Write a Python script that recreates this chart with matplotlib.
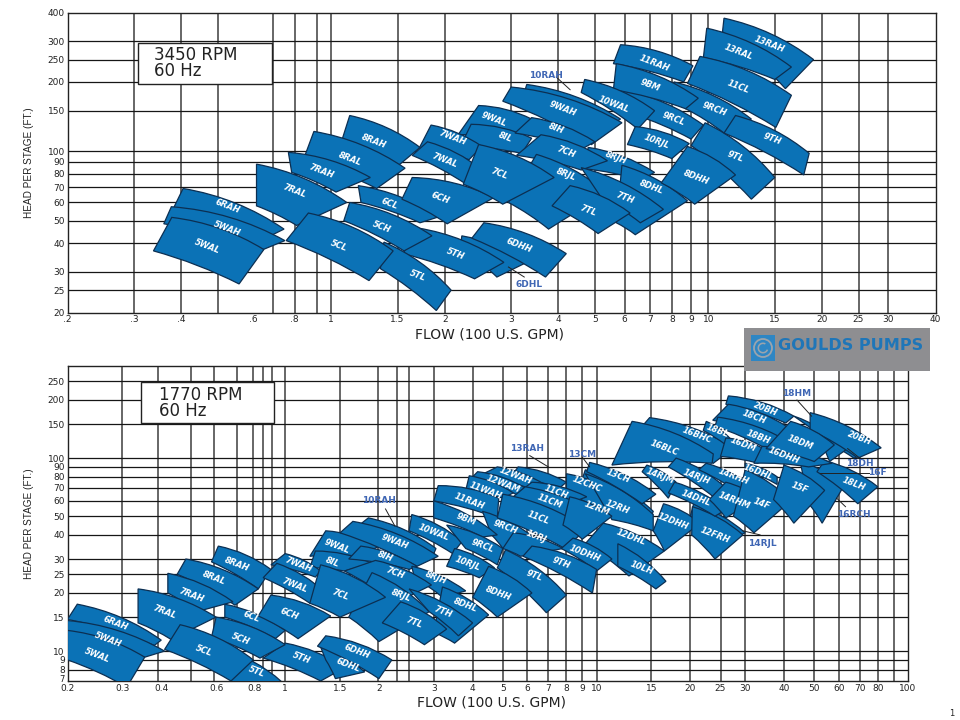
import numpy as np
import matplotlib
matplotlib.use("Agg")
import matplotlib.pyplot as plt
from matplotlib.path import Path
from matplotlib.patches import PathPatch, Rectangle, Circle, Wedge

#
# Chart values. Corners go top-left, top-right,
# bottom-right, bottom-left
#

# 3450 RPM panel
top_grid_flow = [0.3, 0.4, 0.5, 0.7, 0.8, 0.915, 1, 1.5, 2, 3, 4, 5, 6, 7, 8, 9, 10, 15, 20, 25, 30]
top_grid_head = [25, 30, 40, 50, 60, 70, 80, 90, 100, 150, 200, 250, 300]
top_flow_ticks = [0.2, 0.3, 0.4, 0.62, 0.8, 1, 1.5, 2, 3, 4, 5, 6, 7, 8, 9, 10, 15, 20, 25, 30, 40]
top_flow_labels = [".2", ".3", ".4", ".6", ".8", "1", "1.5", "2", "3", "4", "5", "6", "7", "8", "9", "10",
                   "15", "20", "25", "30", "40"]
top_head_ticks = [20, 25, 30, 40, 50, 60, 70, 80, 90, 100, 150, 200, 250, 300, 400]

top_names = ["6RAH", "5WAH", "5WAL", "8RAH", "8RAL", "7RAH", "7RAL", "6DHL", "6DHH", "5TH", "6CL", "5TL", "5CH", "5CL",
             "6CH", "10RAH", "9WAL", "9WAH", "8IL", "8IH", "8RJH", "7CH", "8DHL", "7WAH", "7WAL", "8RJL", "7CL", "7TH",
             "7TL", "13RAH", "13RAL", "11CL", "9RCH", "11RAH", "9RCL", "9BM", "10WAL", "10RJL", "9TL", "8DHH", "9TH"]
top_flow = [(.405, .75, .69, .365), (.377, .754, .66, .36), (.378, .663, .57, .338),
            (1.12, 1.72, 1.51, 1.07), (.9, 1.57, 1.32, .844), (.77, 1.27, 1.03, .786), (.634, 1.1, .81, .634),
            (2.22, 3.3, 2.75, 2.2), (2.54, 4.2, 3.7, 2.36), (1.7, 2.87, 2.4, 1.55), (1.18, 1.93, 1.72, 1.2),
            (1.38, 2.08, 1.9, 1.35), (1.12, 1.85, 1.56, 1.08), (.87, 1.46, 1.26, .76), (1.64, 2.7, 2.03, 1.54),
            (3.3, 5.85, 5.6, 3.2), (2.46, 3.4, 3.2, 2.17), (3, 5.9, 4.9, 2.85), (2.35, 3.4, 3.2, 2.2),
            (3.4, 5, 4.6, 3.07), (4.8, 7.2, 6.6, 4.7), (3.6, 5.4, 4.6, 3.1), (5.9, 8.8, 6.4, 5.7),
            (1.84, 2.51, 2.32, 1.71), (1.8, 2.51, 2.28, 1.64), (3.5, 5.36, 3.77, 2.95), (2.46, 3.9, 2.85, 2.24),
            (4.6, 7.6, 6.6, 5.2), (4.3, 6.2, 5.1, 3.85), (11, 19, 16, 10.9), (9.9, 16.6, 15, 9.7),
            (9.5, 16.6, 15.1, 8.8), (8.1, 13, 11, 8.7), (5.85, 9.1, 8.6, 5.6), (5.9, 9.7, 9, 6.3),
            (5.7, 9.4, 8.7, 5.6), (4.7, 7.2, 6.5, 4.6), (6.4, 8.9, 8, 6.1), (9.8, 15, 13, 9),
            (8.8, 11.8, 9.2, 7.5), (11.8, 18.5, 17.9, 11)]
top_head = [(69, 46, 43, 48.7), (57.5, 41, 37.5, 48.5), (51.7, 37.5, 26.6, 37),
            (143, 104, 87, 113), (122, 84.5, 69, 92), (99, 77, 66.6, 81), (88, 60, 47.7, 58),
            (43, 33, 28.5, 38), (49, 36, 28.5, 42), (46.5, 33, 28, 36), (71, 52, 49, 60),
            (40.4, 25, 20.4, 31), (60, 43, 37, 50), (54, 37, 27.5, 41), (77, 63, 48.5, 62),
            (195, 138, 132, 165), (158, 138, 113, 118), (190, 133, 107, 165), (131, 114, 98, 105),
            (140, 110, 102, 120), (104, 81, 75, 84), (118, 91, 83, 96), (87, 61, 43.5, 49),
            (130, 105, 92, 103), (110, 83, 72, 96), (97, 66, 46, 60), (107, 77, 59, 72),
            (85, 56, 49, 63), (71, 54, 44, 58), (378, 250, 187, 330), (342, 232, 205, 255),
            (258, 175, 127, 197), (200, 138, 120, 153), (290, 235, 200, 240), (185, 130, 113, 145),
            (240, 170, 153, 185), (205, 150, 125, 180), (128, 108, 93, 107), (133, 77, 62, 106),
            (105, 79, 59, 73), (143, 98, 79, 120)]
top_label_flow = [.53, .53, .47, 1.3, 1.12, .94, .8, None, 3.15, 2.13, 1.43, 1.7, 1.36, 1.05,
                  1.95, None, 2.7, 4.1, 2.9, 3.95, 5.7, 4.2, 7.05, 2.1, 2, 4.2, 2.8, 6,
                  4.8, 14.5, 12, 12, 10.4, 7.2, 8.1, 7, 5.6, 7.3, 11.8, 9.3, 14.8]
top_label_head = [58, 46, 38.5, 110, 93, 82, 67, None, 39, 36, 59, 29, 47, 39,
                  63, None, 138, 153, 115, 125, 94, 99, 70, 114, 91, 79, 80, 63,
                  55, 290, 270, 190, 153, 240, 138, 193, 160, 110, 95, 77, 113]

top_callouts = ["10RAH", "6DHL"]
top_callout_flow = [3.7, 3.35]
top_callout_head = [214, 26.5]
top_leader_flow = [(3.95, 4.3), (2.95, 3.25)]
top_leader_head = [(210, 185), (31.5, 28.5)]

# 1770 RPM panel
bot_grid_flow = [0.3, 0.39, 0.5, 0.59, 0.7, 0.79, 0.85, 0.91, 1, 1.5, 1.98, 2.28, 2.49, 3, 4, 5, 6, 7, 8, 9, 10, 15,
                 20, 25, 30, 40, 50, 60, 70, 80, 90]
bot_grid_head = [8, 9, 10, 15, 20, 25, 30, 40, 50, 60, 70, 80, 90, 100, 150, 200, 250]
bot_flow_ticks = [0.2, 0.3, 0.4, 0.6, 0.8, 1, 1.5, 2, 3, 4, 5, 6, 7, 8, 9, 10, 15, 20, 25, 30, 40, 50, 60, 70, 80, 100]
bot_flow_labels = ["0.2", "0.3", "0.4", "0.6", "0.8", "1", "1.5", "2", "3", "4", "5", "6", "7", "8", "9", "10",
                   "15", "20", "25", "30", "40", "50", "60", "70", "80", "100"]
bot_head_ticks = [8, 9, 10, 15, 20, 25, 30, 40, 50, 60, 70, 80, 90, 100, 150, 200, 250]

bot_names = ["6RAH", "5WAH", "5WAL", "8RAH", "8RAL", "7RAH", "7RAL", "6CL", "5TL", "5TH", "5CH", "5CL", "6DHL", "6DHH",
             "6CH", "10RAH", "9WAL", "9WAH", "8IL", "8IH", "8RJH", "7CH", "8DHL", "7WAH", "7WAL", "8RJL", "7CL", "7TH",
             "7TL", "13RAH", "12WAH", "12WAM", "11WAH", "11RAH", "9RCH", "9BM", "10WAL", "9RCL", "10RJL", "13CM",
             "12CHC", "12RH", "13CH", "11CH", "11CM", "11CL", "10RJ", "12RM", "12DHH", "12DHL", "10DHH", "10LH", "9TL",
             "8DHH", "9TH", "14RJL", "12FRH", "16BHC", "16BLC", "14RJM", "14RJH", "14DHL", "14RHH", "14RHM", "16DHL",
             "14F", "18DH", "18HM", "20BH", "16RCH", "18LH", "15F", "20BH", "18CH", "18BL", "18BH", "16DM", "16DHH",
             "18DM"]
bot_flow = [(.215, .4, .38, .2), (.2, .41, .354, .2), (.2, .354, .31, .2), (.61, .9, .82, .58), (.48, .82, .69, .45),
            (.42, .68, .52, .42), (.337, .6, .43, .337), (.64, 1, .93, .64), (.7, 1.07, .95, .67), (1, 1.55, 1.3, .85),
            (.6, 1, .83, .58), (.46, .79, .67, .41), (1.3, 1.8, 1.45, 1.35), (1.35, 2.2, 2, 1.27), (.9, 1.4, 1.1, .82),
            (1.85, 3.05, 3, 1.7), (1.35, 2, 1.75, 1.2), (1.65, 3.1, 2.65, 1.5), (1.25, 1.9, 1.55, 1.2),
            (1.75, 2.65, 2.5, 1.6), (2.55, 3.8, 3.2, 2.6), (1.95, 2.95, 2.25, 1.55), (3.2, 4.5, 3.5, 3),
            (1, 1.3, 1.25, .9), (.94, 1.35, 1.2, .85), (1.9, 2.9, 2, 1.6), (1.3, 2.1, 1.5, 1.2), (2.5, 4, 3.6, 2.9),
            (2.35, 3.3, 2.8, 2.05), (5.6, 8, 7.6, 5.3), (4.8, 6.8, 6.2, 4.2), (4.15, 5.9, 5.6, 4), (3.9, 5.4, 5, 3.8),
            (3.1, 4.85, 4.8, 3), (4.3, 6.4, 5, 4.6), (3, 4.8, 4.3, 3), (2.55, 3.7, 3.45, 2.5), (3.3, 5, 4.8, 3.8),
            (3.5, 4.7, 4.2, 3.3), (9.2, 15.2, 15, 8.8), (8, 13, 11, 8), (9.2, 15.2, 15.2, 11.2), (9.5, 15.5, 14, 9.3),
            (6.2, 9.3, 8.1, 5.6), (5.9, 10.5, 9.2, 5.4), (5, 9.3, 7.9, 4.8), (5.4, 7.8, 5.7, 5), (8.2, 11.2, 9, 7.8),
            (16.4, 21.5, 16.5, 15.2), (10.5, 16.5, 12.7, 9.2), (8.4, 11.2, 10, 7.7), (11.7, 16.7, 15.5, 11.7),
            (5.1, 8, 6.9, 4.8), (4.5, 6.2, 4.8, 4), (6.2, 10, 9.7, 5.8), (20.5, 30, 28, 20), (20.3, 29.5, 24, 20.2),
            (14.8, 27.5, 23.7, 14), (13, 23.7, 23.5, 11.2), (14.5, 18, 17, 14), (18, 26, 24, 17), (17.8, 26, 24, 17),
            (22.5, 32, 31, 21.3), (26, 33, 26, 23), (30, 38, 38, 30), (30, 42, 32, 27.5), (50, 72, 67, 50),
            (43, 64, 56, 50), (48.5, 82, 69, 48.5), (45, 62, 53, 48), (54, 80, 69, 51), (40, 54, 43, 37),
            (26.5, 43, 40.5, 26), (26.5, 41, 38, 23.6), (22.5, 27, 26, 22), (24.5, 43, 35, 24), (26, 34, 33, 25),
            (34, 57, 48, 32), (42, 58, 50, 35)]
bot_head = [(17.5, 11.4, 10.7, 14.6), (14.4, 10, 9.3, 11.8), (12.8, 9.3, 6.5, 9), (35, 26.5, 21, 29), (30, 21, 17.3, 25),
            (25.3, 18, 16, 20), (21, 15, 11.5, 14), (17.5, 12.8, 11.6, 15), (9.7, 6, 5, 7), (11, 8.2, 7, 9.2),
            (15, 10.8, 9.2, 11.8), (13.7, 9, 7, 10.2), (10.5, 7.8, 7.2, 9), (12, 9, 7.2, 10.6), (19.5, 15.2, 11.6, 15.2),
            (49, 34, 32, 44), (42, 35, 31, 31), (47, 31, 27.5, 41), (33, 28.5, 26, 27),
            (35, 27.5, 26.5, 30), (27.5, 20.5, 19, 24), (29.5, 22, 17.7, 26), (21.5, 15.4, 11, 12.5),
            (32, 26, 24.2, 28), (28.5, 20, 17.7, 24), (25.5, 16, 11.2, 15), (28, 19, 15, 17.7), (21, 14, 12, 16),
            (18, 13, 10.8, 14), (90, 75, 70, 80), (90, 73, 69, 81), (85, 70, 64, 80), (81, 66, 62, 68),
            (72, 62, 49, 60), (53, 38, 34, 40), (60, 40, 39, 49), (51, 37, 32, 42), (45, 34, 28, 34),
            (34, 27, 24, 27.5), (87, 53, 50, 70), (83, 60, 50, 66), (83, 51, 42, 48), (95, 65, 58, 85),
            (75, 63, 58, 66), (71, 49, 42, 63), (65, 43, 34, 49), (41, 34, 31, 34), (63, 50, 38, 45),
            (58, 46, 33, 42), (46, 33, 24.5, 36), (38.5, 30, 26, 34), (36, 23, 21, 27.5),
            (33.5, 19.5, 15.8, 27), (27.5, 20, 15, 19), (35, 26.5, 20, 31), (58, 41, 39, 50), (56, 40, 30, 40),
            (162, 113, 94, 146), (155, 105, 94, 92), (92, 75, 62, 85), (100, 70, 62, 90), (75, 54, 50, 66),
            (94, 70, 61, 87), (75, 62, 49, 61), (94, 80, 73, 87), (87, 60, 41, 50), (160, 105, 100, 130),
            (165, 112, 96, 139), (172, 113, 100, 140), (97, 71, 46, 58), (97, 71, 58, 85), (92, 68, 46, 61),
            (210, 165, 152, 190), (190, 145, 127, 157), (155, 125, 117, 139), (163, 117, 112, 146), (127, 113, 94, 102),
            (115, 94, 90, 94), (155, 117, 96, 112)]
bot_label_flow = [.285, .27, .25, .7, .59, .5, .41, .78, .81, 1.13, .72, .55, 1.6, 1.7,
                  1.03, None, 1.47, 2.25, 1.42, 2.1, 3.05, 2.25, 3.8, 1.1, 1.07, 2.35, 1.5, 3.2,
                  2.6, None, 5.5, 5, 4.4, 3.9, 5.1, 3.8, 3, 4.3, 3.85, None,
                  9.3, 11.7, 11.7, 7.4, 7.1, 6.5, 6.4, 10, 17.6, 12.9, 9.2, 14, 6.3,
                  4.85, 7.7, None, 24, 21, 16.5, 16, 21, 20.8, 27.5, 27.6, 33,
                  34, None, None, 70, None, 67, 45, 35, 32, 24.5, 33, 29.5, 40, 45]
bot_label_head = [14, 11.5, 9.5, 28, 24, 19.5, 16, 15, 7.8, 9.2, 11.6, 10, 8.5, 10,
                  15.5, None, 35, 37, 29, 31, 24, 25.5, 17.3, 28, 22, 19.5, 19.5, 16,
                  14, None, 81, 73, 68, 60, 44, 48, 41, 35, 28.5, None,
                  73, 56, 81, 67, 60, 49, 39, 55, 47, 39, 32, 27, 24.5,
                  20, 28.5, None, 40, 132, 113, 81, 80, 62, 80, 60, 84,
                  58, None, None, 127, None, 73, 70, 180, 163, 138, 128, 117, 103, 120]

bot_callouts = ["10RAH", "13RAH", "13CM", "18HM", "18DH", "16F", "16RCH", "14RJL"]
bot_callout_flow = [2, 6, 9, 44, 70, 80, 67, 34]
bot_callout_head = [60, 112, 105, 215, 94, 84, 51, 36]
bot_leader_flow = [(2.1, 2.25), (6.1, 7), (9, 9.5), (44, 49), (64, 70), (52, 75), (59, 63), (33.5, 29.5)]
bot_leader_head = [(54.5, 44.5), (103, 90), (101, 90), (200, 165), (112, 100), (84, 84), (62, 56), (40, 42)]


pump_blue = "#0b72b6"
edge_dark = "#0c2f52"
callout_blue = "#3f66b4"
condensed = ["Liberation Sans Narrow", "Liberation Sans"]


def add_pump(ax, flows, heads, ratio, bulge_top=0.11, bulge_bot=0.05):
    # Four corners, with the top and bottom edges bowed up and to the right
    lx = np.log10(flows)
    ly = np.log10(heads)

    def control(i, j, bulge):
        dx = lx[j] - lx[i]
        dy = ly[j] - ly[i]
        return (10 ** ((lx[i] + lx[j]) / 2 - bulge * dy * ratio),
                10 ** ((ly[i] + ly[j]) / 2 + bulge * dx / ratio))

    verts = [(flows[0], heads[0]), control(0, 1, bulge_top), (flows[1], heads[1]),
             (flows[2], heads[2]), control(3, 2, bulge_bot), (flows[3], heads[3]), (flows[0], heads[0])]
    codes = [Path.MOVETO, Path.CURVE3, Path.CURVE3, Path.LINETO, Path.CURVE3, Path.CURVE3, Path.CLOSEPOLY]
    ax.add_patch(PathPatch(Path(verts, codes), facecolor=pump_blue, edgecolor=edge_dark,
                           linewidth=0.9, joinstyle="miter", zorder=3))


def draw_panel(ax, xlim, ylim, grid_flow, grid_head, flow_ticks, flow_labels, head_ticks,
               names, flows, heads, label_flow, label_head,
               callouts, callout_flow, callout_head, leader_flow, leader_head, ratio, xlabel_x):
    ax.set_xscale("log")
    ax.set_yscale("log")
    ax.set_xlim(xlim)
    ax.set_ylim(ylim)

    ax.vlines(grid_flow, ylim[0], ylim[1], color="#4d4d4d", linewidth=1.2, zorder=1)
    ax.hlines(grid_head, xlim[0], xlim[1], color="#161616", linewidth=0.9, zorder=1)

    for f, h in zip(flows, heads):
        add_pump(ax, f, h, ratio)
    for name, x, y in zip(names, label_flow, label_head):
        if x is not None:
            ax.text(x, y, name, color="white", fontsize=6, fontweight="bold", fontstyle="italic",
                    rotation=-21, rotation_mode="anchor", ha="center", va="center", zorder=5)

    for name, x, y, lfx, lfy in zip(callouts, callout_flow, callout_head, leader_flow, leader_head):
        ax.plot(lfx, lfy, color="#222222", linewidth=0.7, zorder=4)
        ax.text(x, y, name, color=callout_blue, fontsize=6.5, fontweight="bold",
                ha="center", va="center", zorder=5)

    ax.set_xticks(flow_ticks, flow_labels)
    ax.set_yticks(head_ticks, [str(v) for v in head_ticks])
    ax.minorticks_off()
    ax.tick_params(length=0, labelsize=6.5, pad=2, labelcolor="#222222")
    for side in ax.spines.values():
        side.set_linewidth(1.0)
        side.set_color("#222222")

    ax.set_xlabel("FLOW (100 U.S. GPM)", fontsize=10, color="#222222", labelpad=2, x=xlabel_x)
    ax.set_ylabel("HEAD PER STAGE (FT.)", fontsize=7.2, family=condensed, color="#222222", labelpad=10)


fig = plt.figure(figsize=(9.6, 7.2), dpi=100)

ax_top = fig.add_axes([67.5 / 960, 1 - 312.5 / 720, 868 / 960, 300 / 720])
ax_bot = fig.add_axes([67.5 / 960, 1 - 681 / 720, 840.5 / 960, 315 / 720])

draw_panel(ax_top, (0.2, 40), (20, 400), top_grid_flow, top_grid_head, top_flow_ticks, top_flow_labels,
           top_head_ticks, top_names, top_flow, top_head, top_label_flow, top_label_head,
           top_callouts, top_callout_flow, top_callout_head, top_leader_flow, top_leader_head, 230.7 / 377.7, 0.4856)
draw_panel(ax_bot, (0.2, 100), (7, 300), bot_grid_flow, bot_grid_head, bot_flow_ticks, bot_flow_labels,
           bot_head_ticks, bot_names, bot_flow, bot_head, bot_label_flow, bot_label_head,
           bot_callouts, bot_callout_flow, bot_callout_head, bot_leader_flow, bot_leader_head, 192.8 / 311.5, 0.504)

# the 7 sits a little above its line, wedged between the 8 and the 0.2
ax_bot.annotate("7", xy=(0.2, 7), xytext=(-2, 1.3), textcoords="offset points", fontsize=6,
                color="#222222", ha="right", va="center", annotation_clip=False)

# Boxes and logo sit on an overlay laid out in pixels
over = fig.add_axes([0, 0, 1, 1], zorder=10)
over.set_xlim(0, 960)
over.set_ylim(720, 0)
over.axis("off")

over.add_patch(Rectangle((138, 43), 134, 41, facecolor="white", edgecolor="#222222", linewidth=1.0))
over.text(154, 63, "3450 RPM\n60 Hz", fontsize=12, va="center", ha="left", color="#222222", linespacing=0.9)
over.add_patch(Rectangle((141, 382), 133, 41, facecolor="white", edgecolor="#222222", linewidth=1.0))
over.text(159, 403, "1770 RPM\n60 Hz", fontsize=12, va="center", ha="left", color="#222222", linespacing=0.9)

over.add_patch(Rectangle((744, 328), 186, 43, facecolor="#8e8e91", edgecolor="none"))
over.add_patch(Rectangle((751, 335), 24, 26, facecolor="#2e86c4", edgecolor="none"))
over.add_patch(Circle((763, 348), 9, facecolor="none", edgecolor="#9aa4ad", linewidth=1.3))
over.add_patch(Wedge((763, 348), 5.5, 20, 300, width=1.6, facecolor="#9aa4ad", edgecolor="none"))
over.text(778, 345, "GOULDS PUMPS", fontsize=11.6, fontweight="bold", color="#1f76b8", va="center", ha="left")
over.text(952, 713, "1", fontsize=6, color="#222222", va="center", ha="center")

fig.savefig("out.png", dpi=100)
